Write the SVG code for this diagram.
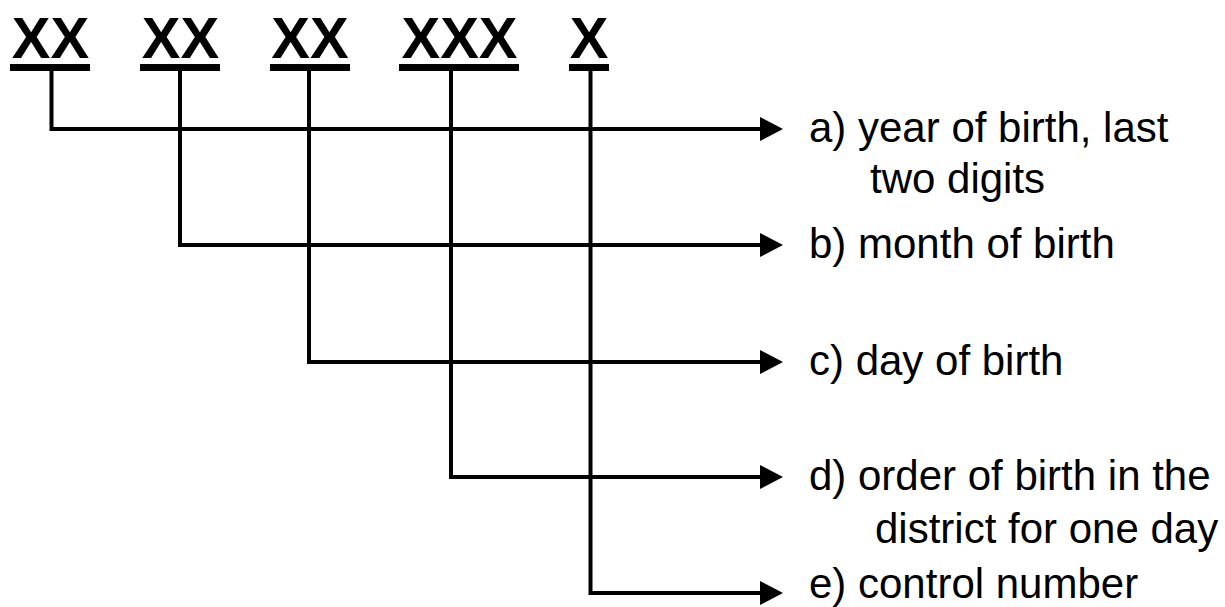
<svg xmlns="http://www.w3.org/2000/svg" width="1225" height="607" viewBox="0 0 1225 607">
  <style>
    .code { font-family: "Liberation Sans", Arial, sans-serif; font-weight: bold; font-size: 58px; fill: #000; text-anchor: middle; }
    .bar { fill: #000; }
    .label { font-family: "Liberation Sans", Arial, sans-serif; font-size: 42px; fill: #000; }
    .wire { fill: none; stroke: #000; stroke-width: 4; stroke-linejoin: miter; }
  </style>
  <defs>
    <marker id="arrow" viewBox="0 0 23 24" refX="1" refY="12" markerWidth="23" markerHeight="24" markerUnits="userSpaceOnUse" orient="auto">
      <path d="M0,0 L23,12 L0,24 Z" fill="#000"/>
    </marker>
  </defs>
  <rect width="1225" height="607" fill="#fff"/>

  <!-- digit groups of the number -->
  <g id="group-year">
    <text class="code" x="50.5" y="58">XX</text>
    <rect class="bar" x="10" y="64" width="80" height="7"/>
  </g>
  <g id="group-month">
    <text class="code" x="180.5" y="58">XX</text>
    <rect class="bar" x="140" y="64" width="80" height="7"/>
  </g>
  <g id="group-day">
    <text class="code" x="310" y="58">XX</text>
    <rect class="bar" x="270" y="64" width="80" height="7"/>
  </g>
  <g id="group-order">
    <text class="code" x="459.5" y="58">XXX</text>
    <rect class="bar" x="399" y="64" width="120" height="7"/>
  </g>
  <g id="group-control">
    <text class="code" x="589" y="58">X</text>
    <rect class="bar" x="569" y="64" width="40" height="7"/>
  </g>

  <!-- connectors from each group to its meaning -->
  <g id="connectors">
    <polyline class="wire" points="51.5,70 51.5,129 761,129" marker-end="url(#arrow)"/>
    <polyline class="wire" points="180,70 180,245 761,245" marker-end="url(#arrow)"/>
    <polyline class="wire" points="309,70 309,362 761,362" marker-end="url(#arrow)"/>
    <polyline class="wire" points="451,70 451,477 761,477" marker-end="url(#arrow)"/>
    <polyline class="wire" points="590.5,70 590.5,593 761,593" marker-end="url(#arrow)"/>
  </g>

  <!-- meanings -->
  <g id="label-a">
    <text class="label" x="809" y="142">a) year of birth, last</text>
    <text class="label" x="870" y="193">two digits</text>
  </g>
  <g id="label-b">
    <text class="label" x="809" y="258">b) month of birth</text>
  </g>
  <g id="label-c">
    <text class="label" x="809" y="375">c) day of birth</text>
  </g>
  <g id="label-d">
    <text class="label" x="809" y="490">d) order of birth in the</text>
    <text class="label" x="875" y="543">district for one day</text>
  </g>
  <g id="label-e">
    <text class="label" x="809" y="598">e) control number</text>
  </g>
</svg>
